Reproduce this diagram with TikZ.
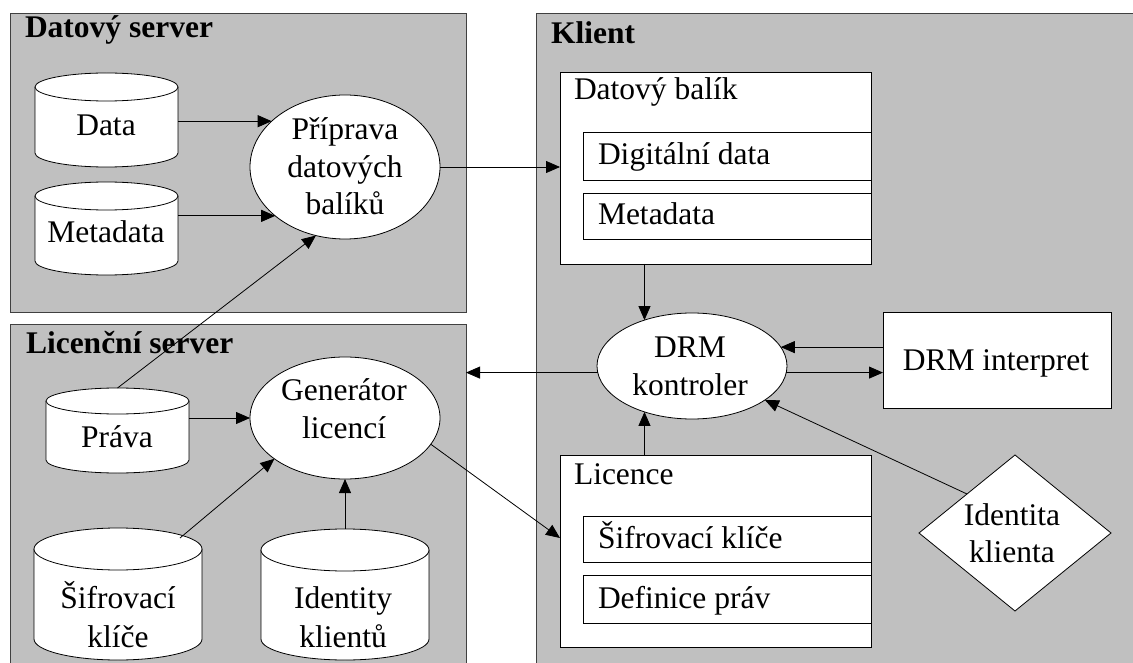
\documentclass[tikz,border=0pt]{standalone}
\usepackage{fontspec}
\setmainfont{Liberation Serif}
\usetikzlibrary{arrows.meta,shapes.geometric,calc}
\definecolor{panelgray}{HTML}{C0C0C0}
\definecolor{panelline}{HTML}{404040}
\tikzset{
  shapeline/.style={draw=black, line width=0.8pt},
}
\newcommand\dbcyl[6]{% name, cx, top, width, height, ry
  \node[minimum width=#4pt, minimum height=#5pt, anchor=north west] (#1) at ({#2-#4/2},#3) {};
  \fill[white] ({#2-#4/2},{#3+#6}) rectangle ({#2+#4/2},{#3+#5-#6});
  \fill[white] (#2,{#3+#5-#6}) ellipse[x radius={#4/2}, y radius=#6];
  \draw[shapeline] ({#2-#4/2},{#3+#6}) -- ({#2-#4/2},{#3+#5-#6})
     arc[start angle=180, end angle=0, x radius={#4/2}, y radius=#6]
     -- ({#2+#4/2},{#3+#6});
  \draw[shapeline, fill=white] (#2,{#3+#6}) ellipse[x radius={#4/2}, y radius=#6];
}
\begin{document}
\begin{tikzpicture}[x=1pt,y=-1pt,
  every node/.style={inner sep=0pt, outer sep=0pt},
  panel/.style={draw=panelline, fill=panelgray, line width=0.9pt},
  box/.style={rectangle, draw=black, fill=white, line width=0.8pt},
  oval/.style={ellipse, draw=black, fill=white, line width=0.8pt},
  txt/.style={anchor=base, font=\fontsize{31.5}{37.5}\selectfont},
  ltxt/.style={anchor=base west, font=\fontsize{31.5}{37.5}\selectfont},
  ttl/.style={anchor=base west, font=\fontsize{31.5}{37.5}\selectfont\bfseries},
  arr/.style={draw=black, line width=0.8pt, -{Triangle[length=14pt,width=12pt]}}]
\useasboundingbox (0,0) rectangle (1133,663);
\clip (0,0) rectangle (1133,663);
\fill[white] (0,0) rectangle (1133,663);

% panels
\node[panel, minimum width=456pt, minimum height=299pt, anchor=north west] (ds) at (10,13) {};
\node[panel, minimum width=456pt, minimum height=400pt, anchor=north west] (ls) at (10,324) {};
\node[panel, minimum width=620pt, minimum height=700pt, anchor=north west] (kl) at (536,13) {};
\node[ttl] (dst) at (25,38) {Datový server};
\node[ttl] (lst) at (26,353) {Licenční server};
\node[ttl] (klt) at (551,44) {Klient};

% cylinders
\dbcyl{data}{106.5}{73}{143}{94}{14}
\dbcyl{meta}{106.5}{182}{143}{93}{14}
\dbcyl{prava}{117.5}{388}{143}{85}{13}
\dbcyl{sif}{118}{528}{168}{132}{21}
\dbcyl{idc}{345}{529}{168}{131}{21}
\node[txt] (data-t) at (106,136) {Data};
\node[txt] (meta-t) at (106,243) {Metadata};
\node[txt] (prava-t) at (117,447) {Práva};
\node[txt] (sif-t1) at (118,608) {Šifrovací};
\node[txt] (sif-t2) at (118,647) {klíče};
\node[txt] (idc-t1) at (343,608) {Identity};
\node[txt] (idc-t2) at (343,647) {klientů};

% ellipses
\node[oval, minimum width=190pt, minimum height=144pt] (prip) at (345,167) {};
\node[txt] (prip-t1) at (345,140) {Příprava};
\node[txt] (prip-t2) at (345,178) {datových};
\node[txt] (prip-t3) at (345,215) {balíků};
\node[oval, minimum width=190pt, minimum height=122pt] (gen) at (345,418) {};
\node[txt] (gen-t1) at (344,400) {Generátor};
\node[txt] (gen-t2) at (344,438) {licencí};
\node[oval, minimum width=190pt, minimum height=106pt] (drm) at (692,366) {};
\node[txt] (drm-t1) at (690,357) {DRM};
\node[txt] (drm-t2) at (690,395) {kontroler};

% client boxes
\node[box, minimum width=311pt, minimum height=192pt, anchor=north west] (balik) at (560,72) {};
\node[box, minimum width=288pt, minimum height=48pt, anchor=north west] (digi) at (583,132) {};
\node[box, minimum width=288pt, minimum height=46pt, anchor=north west] (bmeta) at (583,193) {};
\node[ltxt] (balik-t) at (574,100) {Datový balík};
\node[ltxt] (digi-t) at (598,165) {Digitální data};
\node[ltxt] (bmeta-t) at (598,225) {Metadata};

\node[box, minimum width=311pt, minimum height=192pt, anchor=north west] (lic) at (560,455) {};
\node[box, minimum width=288pt, minimum height=46pt, anchor=north west] (lsif) at (583,516) {};
\node[box, minimum width=288pt, minimum height=48pt, anchor=north west] (ldef) at (583,575) {};
\node[ltxt] (lic-t) at (574,484) {Licence};
\node[ltxt] (lsif-t) at (598,548) {Šifrovací klíče};
\node[ltxt] (ldef-t) at (598,608) {Definice práv};

\node[box, minimum width=228pt, minimum height=96pt] (interp) at (997,360) {};
\node[txt] (interp-t) at (996,370) {DRM interpret};

\node[diamond, draw=black, fill=white, line width=0.8pt, minimum width=192pt, minimum height=156pt, shape aspect=1.23] (idk) at (1015,533) {};
\node[txt] (idk-t1) at (1012,525) {Identita};
\node[txt] (idk-t2) at (1012,562) {klienta};

% connectors
\draw[arr] (prip.148 -| data.east) -- (prip.148);
\draw[arr] (prip.215 -| meta.east) -- (prip.215);
\draw[arr] (prava.north) -- (prip.247);
\draw[arr] (prip.east) -- (prip.east -| balik.west);
\draw[arr] (gen.west -| prava.east) -- (gen.west);
\coordinate (sif-end) at (180,538);
\draw[arr] (sif-end) -- (gen.210);
\draw[arr] (idc.north) -- (gen.south);
\draw[arr] (gen.-17) -- ([yshift=13pt]lic.west);
\draw[arr] (drm.136 |- balik.south) -- (drm.136);
\draw[arr] (drm.224 |- lic.north) -- (drm.224);
\draw[arr] (drm.184) -- (drm.184 -| ls.east);
\draw[arr] (drm.-4) -- (drm.-4 -| interp.west);
\draw[arr] (interp.west |- drm.12) -- (drm.12);
\draw[arr] (idk.north west) -- (drm.-25);
\end{tikzpicture}
\end{document}
